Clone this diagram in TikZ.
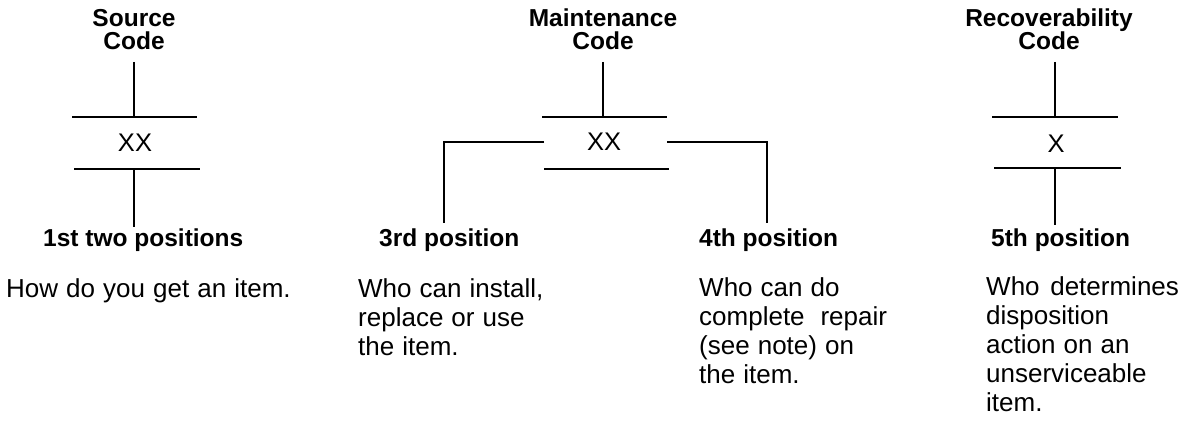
\documentclass[tikz,border=0pt]{standalone}
\usepackage{fontspec}
\setmainfont{Liberation Sans}
\newcommand{\widerspaces}{\spaceskip=0.31em\relax}
\begin{document}
\begin{tikzpicture}[x=1pt,y=-1pt,
  rule/.style={line width=2.9pt},
  head/.style={font=\bfseries\fontsize{24.5}{24}\selectfont, align=center, inner sep=0pt, anchor=base},
  poslabel/.style={font=\bfseries\fontsize{24.5}{24}\selectfont, inner sep=0pt, anchor=base west},
  desc/.style={font=\fontsize{26}{29}\selectfont\widerspaces, align=left, inner sep=0pt, anchor=base west},
  codetext/.style={font=\fontsize{25.5}{25}\selectfont, inner sep=0pt}]
\useasboundingbox (0,0) rectangle (1185,420);

% ---------- Source code ----------
\node[head] (srchead) at (134,50) {Source\\Code};
\coordinate (srcA) at (134,62);
\coordinate (srcB) at (134,117);
\coordinate (srcTL) at (72,117);
\coordinate (srcTR) at (197,117);
\node[codetext] (srcxx) at (135,143) {XX};
\coordinate (srcBL) at (74,169);
\coordinate (srcBR) at (200,169);
\coordinate (srcC) at (134,169);
\coordinate (srcD) at (134,227);
\draw[rule] (srcA) -- (srcB);
\draw[rule] (srcTL) -- (srcTR);
\draw[rule] (srcBL) -- (srcBR);
\draw[rule] (srcC) -- (srcD);
\node[poslabel] (pos1) at (43,246) {1st two positions};
\node[desc] (desc1) at (6,297) {How do you get an item.};

% ---------- Maintenance code ----------
\node[head] (mnthead) at (603,50) {Maintenance\\Code};
\coordinate (mntA) at (603,62);
\coordinate (mntB) at (603,117);
\coordinate (mntTL) at (542,117);
\coordinate (mntTR) at (667,117);
\node[codetext] (mntxx) at (604,142) {XX};
\coordinate (mntBL) at (544,169);
\coordinate (mntBR) at (669,169);
\coordinate (mntL0) at (544,142);
\coordinate (mntL1) at (444,142);
\coordinate (mntL2) at (444,223);
\coordinate (mntR0) at (667,142);
\coordinate (mntR1) at (767,142);
\coordinate (mntR2) at (767,223);
\draw[rule] (mntA) -- (mntB);
\draw[rule] (mntTL) -- (mntTR);
\draw[rule] (mntBL) -- (mntBR);
\draw[rule] (mntL0) -- (mntL1) -- (mntL2);
\draw[rule] (mntR0) -- (mntR1) -- (mntR2);
\node[poslabel] (pos3) at (379,246) {3rd position};
\node[poslabel] (pos4) at (699,246) {4th position};
\node[desc] (desc3) at (358,355) {Who can install,\\replace or use\\the item.};
\node[desc] (desc4) at (699,383) {Who can do\\complete\hspace{0.3em} repair\\(see note) on\\the item.};

% ---------- Recoverability code ----------
\node[head] (rechead) at (1049,50) {Recoverability\\Code};
\coordinate (recA) at (1055,62);
\coordinate (recB) at (1055,117);
\coordinate (recTL) at (992,117);
\coordinate (recTR) at (1118,117);
\node[codetext] (recx) at (1056,144) {X};
\coordinate (recBL) at (994,168);
\coordinate (recBR) at (1121,168);
\coordinate (recC) at (1055,168);
\coordinate (recD) at (1055,225);
\draw[rule] (recA) -- (recB);
\draw[rule] (recTL) -- (recTR);
\draw[rule] (recBL) -- (recBR);
\draw[rule] (recC) -- (recD);
\node[poslabel] (pos5) at (991,246) {5th position};
\node[desc] (desc5) at (986,411) {Who\hspace{0.1em} determines\\disposition\\action on an\\unserviceable\\item.};
\end{tikzpicture}
\end{document}
